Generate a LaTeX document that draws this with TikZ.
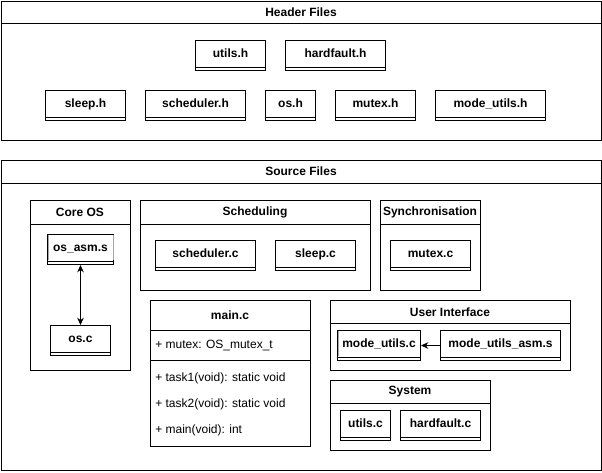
\documentclass[tikz,border=0pt]{standalone}
\usepackage{fontspec}
\setmainfont{Liberation Sans}
\usetikzlibrary{arrows.meta}
\begin{document}
\begin{tikzpicture}[x=0.75pt,y=-0.75pt,
  lw/.style={line width=0.75pt},
  fw/.style={minimum width=#1*0.75pt},
  fh/.style={minimum height=#1*0.75pt},
  lane/.style={draw, lw, anchor=north west, inner sep=0pt},
  ttl/.style={font=\fontsize{9pt}{11pt}\selectfont\bfseries, inner sep=0pt},
  filebox/.style={draw, lw, anchor=north west, inner sep=0pt, minimum height=22.5pt,
    font=\fontsize{9pt}{11pt}\selectfont\bfseries, text height=7pt, text depth=3.6pt},
  row/.style={anchor=west, inner sep=0pt, font=\fontsize{9pt}{11pt}\selectfont},
  arr/.style={lw, -{Stealth[length=5.5pt,width=5pt]}},
  edge2/.style={draw=gray!70, lw},
]
\useasboundingbox (0,0) rectangle (602,472);

% ---------- Header Files ----------
\node[lane, fw=600, fh=139] (hdr) at (1,1) {};
\draw[lw] (1,23) -- (601,23);
\node[ttl] (hdrt) at (301,12) {Header Files};

\node[filebox, fw=70]  (utilsh)     at (195,40) {utils.h};
\node[filebox, fw=100] (hardfaulth) at (285,40) {hardfault.h};
\node[filebox, fw=80]  (sleeph)     at (45,90)  {sleep.h};
\node[filebox, fw=100] (schedh)     at (145,90) {scheduler.h};
\node[filebox, fw=50]  (osh)        at (265,90) {os.h};
\node[filebox, fw=80]  (mutexh)     at (335,90) {mutex.h};
\node[filebox, fw=110] (modeh)      at (435,90) {mode\_utils.h};

% ---------- Source Files ----------
\node[lane, fw=600, fh=310] (src) at (1,160) {};
\draw[lw] (1,183) -- (601,183);
\node[ttl] (srct) at (301,171) {Source Files};

% Core OS
\node[lane, fw=100, fh=170] (core) at (30,200) {};
\draw[lw] (30,224) -- (130,224);
\node[ttl] (coret) at (80,212) {Core OS};
\node[filebox, fw=66] (osasm) at (47,234) {os\_asm.s};
\node[filebox, fw=60] (osc)   at (50,325) {os.c};
\draw[edge2] ([xshift=0.75pt,yshift=-0.75pt]osasm.north west) -- ([xshift=0.75pt,yshift=3.75pt]osasm.south west);
\draw[edge2] ([xshift=-0.75pt,yshift=-0.75pt]osasm.north east) -- ([xshift=-0.75pt,yshift=3.75pt]osasm.south east);
\draw[arr, {Stealth[length=5.5pt,width=5pt]}-{Stealth[length=5.5pt,width=5pt]}] (osasm.south) -- (osc.north);

% Scheduling
\node[lane, fw=230, fh=90] (sched) at (140,200) {};
\draw[lw] (140,224) -- (370,224);
\node[ttl] (schedt) at (255,212) {Scheduling};
\node[filebox, fw=100] (schedc) at (155,240) {scheduler.c};
\node[filebox, fw=80]  (sleepc) at (275,240) {sleep.c};

% Synchronisation
\node[lane, fw=100, fh=90] (sync) at (380,200) {};
\draw[lw] (380,224) -- (480,224);
\node[ttl] (synct) at (430,212) {Synchronisation};
\node[filebox, fw=80] (mutexc) at (390,240) {mutex.c};

% main.c
\node[lane, fw=160, fh=146] (mainc) at (150,300) {};
\draw[lw] (150,330) -- (310,330);
\draw[lw] (150,360) -- (310,360);
\node[ttl] (maint) at (230,315) {main.c};
\node[row] (r1) at (155,345) {+ mutex: OS\_mutex\_t};
\node[row] (r2) at (155,378) {+ task1(void): static void};
\node[row] (r3) at (155,404) {+ task2(void): static void};
\node[row] (r4) at (155,430) {+ main(void): int};

% User Interface
\node[lane, fw=240, fh=70] (ui) at (330,300) {};
\draw[lw] (330,323) -- (570,323);
\node[ttl] (uit) at (450,312) {User Interface};
\node[filebox, fw=83]  (modec)   at (337,330) {mode\_utils.c};
\node[filebox, fw=120] (modeasm) at (440,330) {mode\_utils\_asm.s};
\draw[edge2] ([xshift=0.75pt,yshift=-0.75pt]modec.north west) -- ([xshift=0.75pt,yshift=3.75pt]modec.south west);
\draw[arr] (modeasm.west) -- (modec.east);

% System
\node[lane, fw=160, fh=70] (sys) at (330,380) {};
\draw[lw] (330,403) -- (490,403);
\node[ttl] (syst) at (410,392) {System};
\node[filebox, fw=50] (utilsc)     at (340,410) {utils.c};
\node[filebox, fw=80] (hardfaultc) at (400,410) {hardfault.c};

% bottom strips of file boxes
\foreach \n in {utilsh,hardfaulth,sleeph,schedh,osh,mutexh,modeh,osasm,osc,schedc,sleepc,mutexc,modec,modeasm,utilsc,hardfaultc}
  \draw[lw] ([yshift=3pt]\n.south west) -- ([yshift=3pt]\n.south east);
\end{tikzpicture}
\end{document}
